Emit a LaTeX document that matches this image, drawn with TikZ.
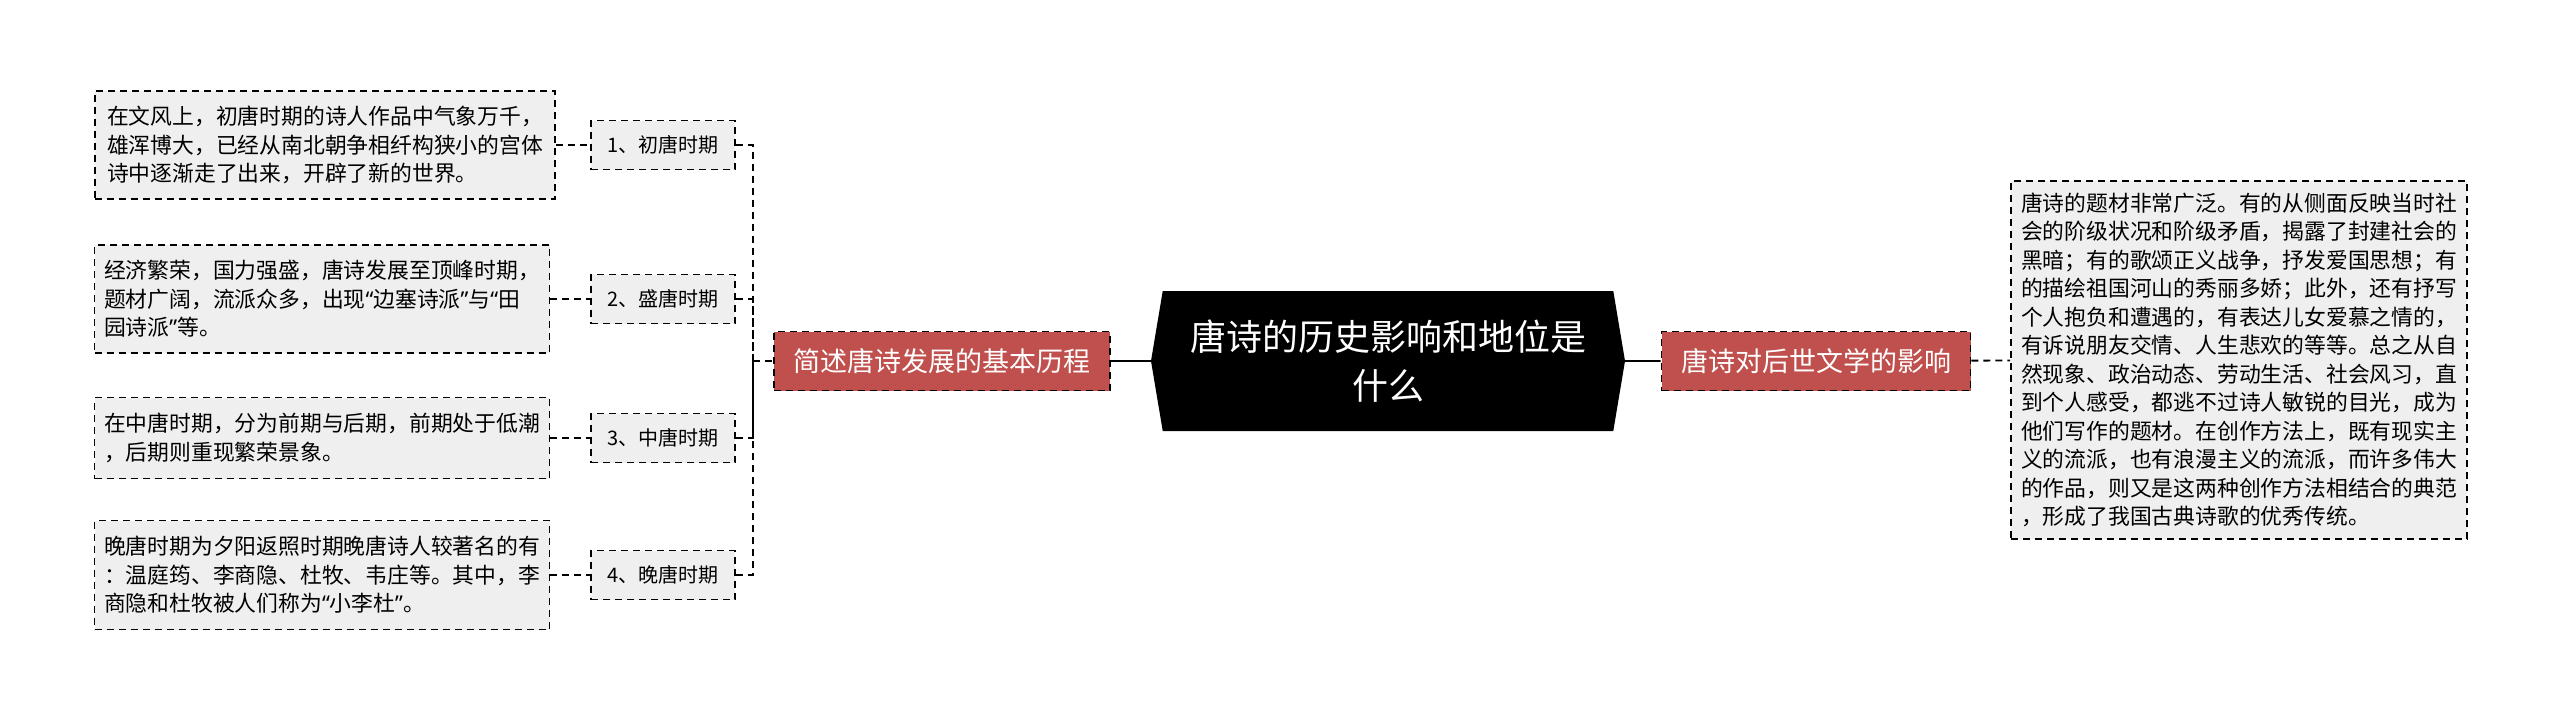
\documentclass[tikz,border=0pt]{standalone}
\usepackage{fontspec}
\setmainfont{Noto Sans CJK SC}
\newfontfamily\quotefont{Noto Sans}
\usepackage{tikz}
\usetikzlibrary{shapes.symbols}

\definecolor{topicred}{HTML}{C0504D}
\definecolor{leafgrey}{HTML}{EFEFEF}

% narrow quotes as in the picture
\newcommand{\openq}{{\quotefont “}}
\newcommand{\closeq}{{\quotefont ”}}

\begin{document}
\begin{tikzpicture}[x=1pt, y=-1pt,
    dashbox/.style={draw=black, line width=1.8pt, dash pattern=on 7pt off 5pt},
    topic/.style={dashbox, fill=topicred, text=white, minimum height=59pt,
        font=\fontsize{27}{32}\selectfont},
    period/.style={dashbox, fill=leafgrey, minimum width=144pt, minimum height=49pt,
        inner sep=4pt, font=\fontsize{20}{26}\selectfont},
    leaf/.style={dashbox, fill=leafgrey, align=left, inner xsep=9pt,
        font=\fontsize{21.8}{28.5}\selectfont},
    link/.style={line width=1.8pt},
    dlink/.style={line width=1.8pt, dash pattern=on 7pt off 5pt}]

    \useasboundingbox (0,0) rectangle (2560,721);

    \node[shape=signal, signal to=west and east, signal pointer angle=161,
        fill=black, text=white, minimum width=474pt, minimum height=140pt,
        align=center, font=\fontsize{36}{49}\selectfont]
        (root) at (1388, 361) {唐诗的历史影响和地位是\\什么};

    \node[topic, minimum width=336pt] (history) at (942, 361)  {简述唐诗发展的基本历程};
    \node[topic, minimum width=309pt] (impact)  at (1816, 361) {唐诗对后世文学的影响};

    \node[period] (p1) at (663, 145) {1、初唐时期};
    \node[period] (p2) at (663, 299) {2、盛唐时期};
    \node[period] (p3) at (663, 438) {3、中唐时期};
    \node[period] (p4) at (663, 575) {4、晚唐时期};

    \node[leaf, minimum width=460pt, minimum height=108pt] (l1) at (325, 145)
        {在文风上，初唐时期的诗人作品中气象万千，\\雄浑博大，已经从南北朝争相纤构狭小的宫体\\诗中逐渐走了出来，开辟了新的世界。};
    \node[leaf, minimum width=455pt, minimum height=108pt] (l2) at (322, 299)
        {经济繁荣，国力强盛，唐诗发展至顶峰时期，\\题材广阔，流派众多，出现\openq 边塞诗派\closeq 与\openq 田\\园诗派\closeq 等。};
    \node[leaf, minimum width=455pt, minimum height=81pt] (l3) at (322, 438)
        {在中唐时期，分为前期与后期，前期处于低潮\\，后期则重现繁荣景象。};
    \node[leaf, minimum width=455pt, minimum height=109pt] (l4) at (322, 575)
        {晚唐时期为夕阳返照时期晚唐诗人较著名的有\\：温庭筠、李商隐、杜牧、韦庄等。其中，李\\商隐和杜牧被人们称为\openq 小李杜\closeq 。};

    \node[leaf, minimum width=456pt, minimum height=358pt] (r1) at (2239, 360)
        {唐诗的题材非常广泛。有的从侧面反映当时社\\会的阶级状况和阶级矛盾，揭露了封建社会的\\黑暗；有的歌颂正义战争，抒发爱国思想；有\\的描绘祖国河山的秀丽多娇；此外，还有抒写\\个人抱负和遭遇的，有表达儿女爱慕之情的，\\有诉说朋友交情、人生悲欢的等等。总之从自\\然现象、政治动态、劳动生活、社会风习，直\\到个人感受，都逃不过诗人敏锐的目光，成为\\他们写作的题材。在创作方法上，既有现实主\\义的流派，也有浪漫主义的流派，而许多伟大\\的作品，则又是这两种创作方法相结合的典范\\，形成了我国古典诗歌的优秀传统。};

    \coordinate (lbus) at (753, 361);

    \path[link] (history) edge (root);
    \path[link] (root) edge (impact);
    \path[dlink] (impact) edge (r1);
    \path[dlink] (lbus) edge (history);
    \draw[dlink] (p1.east) -| (lbus);
    \draw[dlink] (p2.east) -| (lbus);
    \draw[dlink] (p3.east) -| (lbus);
    \draw[dlink] (p4.east) -| (lbus);
    \path[dlink] (l1) edge (p1);
    \path[dlink] (l2) edge (p2);
    \path[dlink] (l3) edge (p3);
    \path[dlink] (l4) edge (p4);

\end{tikzpicture}
\end{document}
